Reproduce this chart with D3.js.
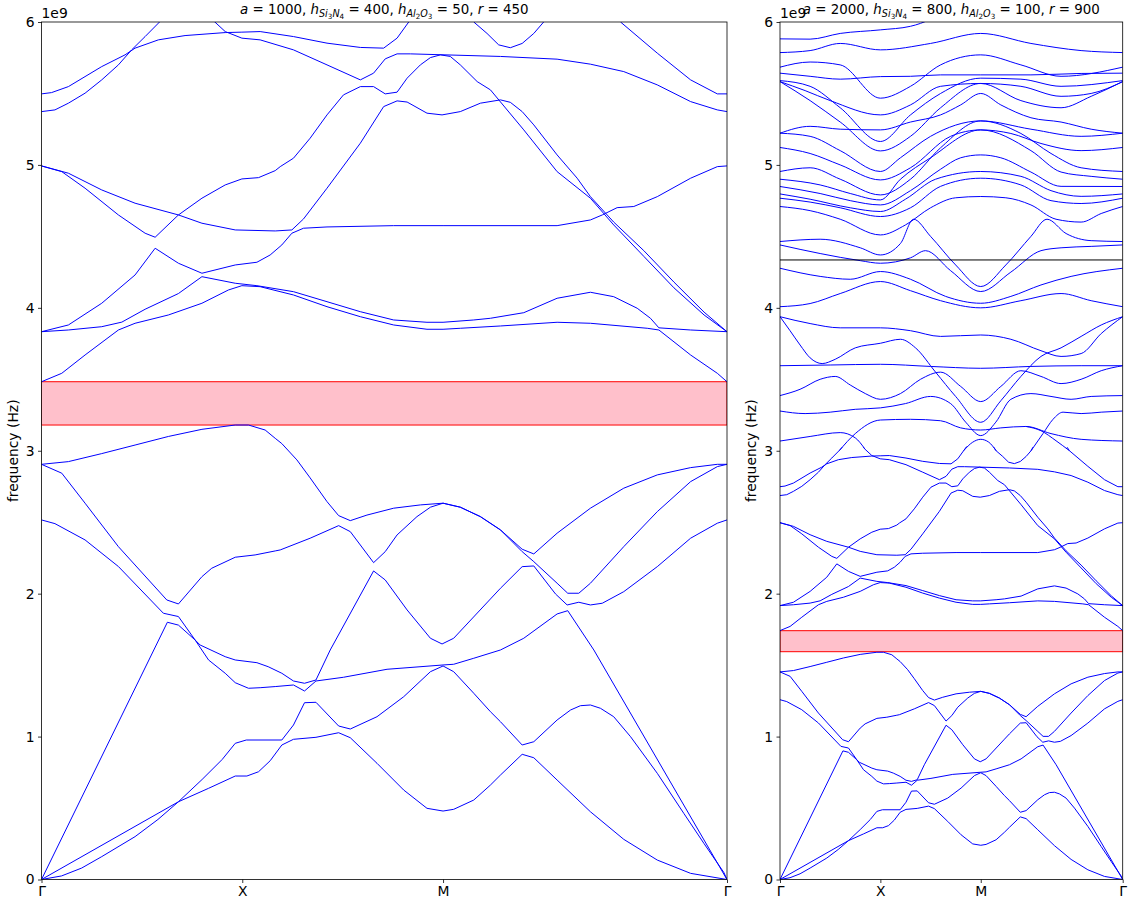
<!DOCTYPE html>
<html>
<head>
<meta charset="utf-8">
<script src="https://cdn.jsdelivr.net/npm/d3@7"></script>
<style>
  body { margin: 0; background: #fff; }
  svg { display: block; }
  text { font-family: "DejaVu Sans", sans-serif; }
</style>
</head>
<body>
<svg id="chart" width="1131" height="904"></svg>
<script>
// k-path: Γ -> X -> M -> Γ, measured as path length in units of |ΓX|
const kLabels = ["Γ", "X", "M", "Γ"];
const kTicks = [0, 1, 2, 2 + Math.SQRT2];
const freqTicks = [0, 1, 2, 3, 4, 5, 6];

// Bands of the a = 1000 lattice, [k, frequency in 1e9 Hz]
const band1 = [[0,0],[0.1,0.025],[0.2,0.08],[0.3,0.16],[0.466,0.30],[0.58,0.42],[0.682,0.544],[0.832,0.638],[0.965,0.724],[1.023,0.724],[1.081,0.754],[1.139,0.831],[1.197,0.941],[1.255,0.981],[1.367,0.995],[1.480,1.027],[1.538,0.992],[1.671,0.813],[1.804,0.626],[1.920,0.498],[2.0,0.479],[2.053,0.491],[2.153,0.556],[2.236,0.661],[2.286,0.731],[2.394,0.876],[2.452,0.852],[2.568,0.696],[2.734,0.474],[2.900,0.281],[3.067,0.136],[3.233,0.043],[3.414,0]];
const band2 = [[0,0],[0.682,0.544],[0.80,0.70],[0.9,0.84],[0.965,0.953],[1.02,0.976],[1.197,0.976],[1.255,1.081],[1.310,1.237],[1.367,1.240],[1.480,1.074],[1.538,1.053],[1.671,1.139],[1.804,1.279],[1.937,1.454],[2.0,1.494],[2.053,1.454],[2.153,1.303],[2.236,1.174],[2.286,1.104],[2.394,0.941],[2.452,0.964],[2.568,1.116],[2.635,1.186],[2.684,1.216],[2.734,1.221],[2.784,1.198],[2.850,1.139],[2.934,0.999],[3.067,0.743],[3.199,0.463],[3.299,0.253],[3.399,0.048],[3.414,0]];
const band3 = [[0,0],[0.627,1.80],[0.682,1.78],[0.765,1.676],[0.832,1.536],[0.915,1.443],[0.965,1.377],[1.031,1.338],[1.089,1.342],[1.164,1.35],[1.255,1.361],[1.310,1.319],[1.367,1.389],[1.504,1.415],[1.721,1.471],[2.0,1.501],[2.053,1.506],[2.153,1.548],[2.286,1.606],[2.402,1.688],[2.568,1.858],[2.621,1.881],[2.751,1.606],[3.414,0]];
const band4 = [[0,2.516],[0.067,2.49],[0.217,2.376],[0.383,2.19],[0.607,1.863],[0.682,1.84],[0.765,1.676],[0.790,1.641],[0.915,1.559],[0.965,1.536],[1.073,1.517],[1.129,1.489],[1.197,1.443],[1.255,1.389],[1.310,1.373],[1.367,1.396],[1.438,1.606],[1.654,2.159],[1.712,2.096],[1.821,1.886],[1.937,1.688],[1.995,1.648],[2.053,1.688],[2.236,1.963],[2.286,2.038],[2.394,2.189],[2.452,2.194],[2.560,1.998],[2.618,1.921],[2.676,1.940],[2.734,1.921],[2.793,1.933],[2.900,2.014],[3.067,2.189],[3.233,2.388],[3.366,2.493],[3.414,2.516]];
const band5 = [[0,2.905],[0.101,2.843],[0.217,2.633],[0.383,2.329],[0.624,1.956],[0.682,1.928],[0.799,2.119],[0.848,2.178],[0.965,2.255],[1.064,2.271],[1.164,2.299],[1.189,2.306],[1.338,2.388],[1.480,2.476],[1.538,2.434],[1.654,2.217],[1.712,2.294],[1.771,2.411],[1.870,2.539],[1.937,2.605],[2.0,2.633],[2.086,2.605],[2.186,2.539],[2.286,2.446],[2.394,2.294],[2.452,2.224],[2.568,2.073],[2.621,2.003],[2.676,2.003],[2.734,2.073],[2.900,2.329],[3.067,2.574],[3.233,2.784],[3.366,2.889],[3.414,2.905]];
const band6 = [[0,2.905],[0.134,2.924],[0.300,2.98],[0.466,3.04],[0.632,3.10],[0.799,3.15],[0.965,3.18],[1.031,3.18],[1.114,3.145],[1.164,3.087],[1.197,3.05],[1.272,2.936],[1.338,2.81],[1.422,2.644],[1.480,2.546],[1.538,2.511],[1.621,2.55],[1.754,2.598],[1.887,2.621],[2.0,2.633],[2.086,2.605],[2.186,2.539],[2.286,2.446],[2.394,2.311],[2.452,2.278],[2.568,2.423],[2.734,2.598],[2.900,2.738],[3.067,2.831],[3.233,2.882],[3.366,2.905],[3.414,2.905]];
const band7 = [[0,3.483],[0.101,3.542],[0.217,3.67],[0.383,3.845],[0.466,3.892],[0.632,3.95],[0.799,4.032],[0.931,4.125],[0.998,4.155],[1.089,4.148],[1.255,4.09],[1.422,4.008],[1.588,3.938],[1.754,3.88],[1.920,3.85],[2.0,3.85],[2.086,3.857],[2.286,3.873],[2.568,3.899],[2.734,3.892],[3.017,3.857],[3.075,3.845],[3.233,3.67],[3.366,3.542],[3.414,3.483]];
const band8 = [[0,3.833],[0.134,3.845],[0.300,3.868],[0.40,3.90],[0.516,3.99],[0.682,4.10],[0.799,4.218],[0.965,4.172],[1.073,4.155],[1.255,4.113],[1.422,4.043],[1.588,3.973],[1.754,3.915],[1.920,3.899],[2.0,3.899],[2.153,3.915],[2.236,3.927],[2.402,3.966],[2.568,4.067],[2.734,4.109],[2.850,4.078],[2.967,3.997],[3.033,3.927],[3.075,3.86],[3.233,3.845],[3.414,3.833]];
const band9 = [[0,3.833],[0.134,3.88],[0.300,4.032],[0.466,4.23],[0.566,4.417],[0.682,4.312],[0.799,4.242],[0.965,4.30],[1.073,4.319],[1.139,4.37],[1.197,4.44],[1.247,4.522],[1.305,4.557],[1.422,4.566],[1.754,4.575],[2.0,4.575],[2.568,4.575],[2.734,4.615],[2.793,4.65],[2.867,4.701],[2.95,4.709],[3.067,4.778],[3.233,4.907],[3.366,4.988],[3.414,4.993]];
const band10 = [[0,4.993],[0.101,4.953],[0.217,4.837],[0.383,4.65],[0.516,4.522],[0.566,4.494],[0.682,4.65],[0.799,4.767],[0.915,4.86],[0.998,4.902],[1.081,4.911],[1.164,4.96],[1.189,4.988],[1.255,5.047],[1.338,5.187],[1.422,5.35],[1.504,5.49],[1.588,5.548],[1.654,5.548],[1.712,5.497],[1.771,5.509],[1.821,5.607],[1.887,5.70],[1.937,5.751],[1.987,5.77],[2.036,5.759],[2.086,5.70],[2.170,5.583],[2.236,5.525],[2.402,5.245],[2.568,4.953],[2.734,4.767],[2.85,4.58],[3.0,4.36],[3.15,4.14],[3.3,3.95],[3.414,3.833]];
const band11 = [[0,4.993],[0.134,4.942],[0.300,4.825],[0.466,4.732],[0.682,4.65],[0.799,4.592],[0.965,4.545],[1.164,4.538],[1.247,4.545],[1.305,4.622],[1.422,4.837],[1.588,5.152],[1.704,5.408],[1.771,5.448],[1.821,5.44],[1.920,5.362],[1.995,5.35],[2.086,5.373],[2.186,5.432],[2.286,5.455],[2.335,5.438],[2.394,5.373],[2.452,5.28],[2.568,5.07],[2.668,4.907],[2.734,4.778],[2.85,4.60],[3.0,4.40],[3.15,4.18],[3.3,3.97],[3.414,3.833]];
const band12 = [[0,5.373],[0.067,5.385],[0.134,5.432],[0.217,5.502],[0.300,5.595],[0.383,5.70],[0.449,5.805],[0.516,5.898],[0.59,6.003],[0.62,6.05]];
const band13 = [[0,5.497],[0.05,5.506],[0.134,5.548],[0.300,5.688],[0.416,5.77],[0.466,5.817],[0.582,5.875],[0.715,5.905],[0.915,5.926],[0.998,5.929],[1.089,5.933],[1.255,5.898],[1.422,5.852],[1.588,5.822],[1.704,5.817],[1.771,5.887],[1.829,6.0],[1.86,6.06]];
const band14 = [[0.83,6.05],[0.848,6.02],[0.915,5.933],[0.998,5.887],[1.089,5.875],[1.255,5.805],[1.422,5.70],[1.588,5.595],[1.654,5.642],[1.712,5.742],[1.771,5.777],[1.837,5.777],[2.286,5.759],[2.568,5.74],[2.734,5.705],[2.900,5.653],[3.067,5.56],[3.233,5.443],[3.366,5.385],[3.414,5.373]];
const band15 = [[2.13,6.05],[2.153,6.0],[2.219,5.92],[2.277,5.84],[2.335,5.82],[2.394,5.85],[2.452,5.92],[2.501,6.0],[2.52,6.05]];
const band16 = [[2.86,6.05],[2.884,6.0],[3.067,5.782],[3.233,5.595],[3.366,5.497],[3.414,5.497]];

const bandsA = [band1, band2, band3, band4, band5, band6, band7, band8, band9,
                band10, band11, band12, band13, band14, band15, band16];

// Higher bands of the a = 2000 lattice (above 3e9 Hz), [k, frequency in 1e9 Hz]
const upper1 = [[0,3.068],[0.3,3.10],[0.6,3.127],[0.75,3.09],[0.848,3.01]];
const upper2 = [[0.59,3.0],[0.75,3.12],[1.0,3.215],[1.3,3.22],[1.6,3.21],[1.8,3.16],[2.0,3.145],[2.2,3.16],[2.45,3.17],[2.7,3.12],[3.0,3.08],[3.414,3.068]];
const upper3 = [[1.829,3.0],[1.92,3.06],[2.0,3.08],[2.08,3.06],[2.153,3.0]];
const upper4 = [[2.501,3.0],[2.62,3.12],[2.72,3.22],[2.82,3.27],[3.0,3.26],[3.2,3.27],[3.414,3.278]];
const upper5 = [[2.45,3.17],[2.6,3.14],[2.75,3.07],[2.884,3.0]];
const upper6 = [[0,3.278],[0.25,3.26],[0.5,3.27],[0.75,3.29],[1.0,3.30],[1.25,3.33],[1.5,3.38],[1.7,3.33],[1.85,3.20],[2.0,3.106],[2.15,3.20],[2.3,3.36],[2.5,3.40],[2.7,3.38],[2.9,3.36],[3.1,3.38],[3.414,3.386]];
const upper7 = [[0,3.386],[0.2,3.43],[0.4,3.50],[0.55,3.52],[0.7,3.46],[0.85,3.40],[1.0,3.36],[1.2,3.40],[1.4,3.50],[1.6,3.55],[1.8,3.45],[2.0,3.344],[2.2,3.45],[2.4,3.56],[2.6,3.52],[2.8,3.47],[3.0,3.50],[3.2,3.56],[3.414,3.595]];
const upper8 = [[0,3.595],[0.5,3.60],[1.0,3.605],[1.5,3.59],[2.0,3.577],[2.5,3.59],[3.0,3.595],[3.414,3.595]];
const upper9 = [[0,3.938],[0.1,3.84],[0.2,3.74],[0.3,3.65],[0.42,3.61],[0.55,3.64],[0.75,3.72],[1.0,3.752],[1.2,3.78],[1.35,3.72],[1.55,3.55],[1.75,3.38],[2.0,3.199],[2.2,3.35],[2.4,3.52],[2.6,3.66],[2.8,3.72],[3.0,3.80],[3.2,3.88],[3.414,3.938]];
const upper10 = [[0,3.938],[0.3,3.89],[0.6,3.86],[1.0,3.86],[1.3,3.84],[1.6,3.80],[2.0,3.81],[2.3,3.78],[2.6,3.70],[2.8,3.66],[3.0,3.68],[3.2,3.82],[3.414,3.938]];
const upper11 = [[0,4.008],[0.3,4.03],[0.6,4.10],[1.0,4.184],[1.3,4.12],[1.6,4.05],[2.0,4.0],[2.4,4.05],[2.8,4.10],[3.1,4.05],[3.414,4.008]];
const upper12 = [[0,4.277],[0.4,4.22],[0.7,4.20],[1.0,4.254],[1.3,4.20],[1.65,4.08],[2.0,4.032],[2.3,4.08],[2.6,4.16],[2.9,4.22],[3.414,4.277]];
const upper13 = [[0,4.44],[0.4,4.38],[0.8,4.33],[1.0,4.312],[1.3,4.35],[1.45,4.40],[1.7,4.26],[2.0,4.114],[2.3,4.25],[2.6,4.40],[2.8,4.42],[3.1,4.43],[3.414,4.44]];
const upper14 = [[0,4.464],[0.4,4.48],[0.8,4.42],[1.0,4.37],[1.2,4.45],[1.33,4.62],[1.5,4.50],[1.75,4.30],[2.0,4.149],[2.25,4.30],[2.5,4.50],[2.66,4.62],[2.85,4.52],[3.1,4.47],[3.414,4.464]];
const upper15 = [[0,4.709],[0.3,4.68],[0.6,4.62],[1.0,4.51],[1.25,4.58],[1.5,4.70],[1.75,4.77],[2.0,4.779],[2.25,4.77],[2.5,4.72],[2.75,4.62],[3.0,4.60],[3.2,4.66],[3.414,4.709]];
const upper16 = [[0,4.767],[0.3,4.74],[0.6,4.70],[1.0,4.639],[1.3,4.70],[1.6,4.85],[2.0,4.907],[2.4,4.86],[2.7,4.75],[3.0,4.73],[3.414,4.767]];
const upper17 = [[0,4.797],[0.3,4.76],[0.7,4.70],[1.0,4.674],[1.25,4.76],[1.55,4.90],[2.0,4.954],[2.4,4.92],[2.7,4.82],[3.0,4.78],[3.414,4.797]];
const upper18 = [[0,4.849],[0.4,4.80],[0.7,4.75],[1.0,4.72],[1.3,4.82],[1.6,4.97],[1.8,5.05],[2.0,5.07],[2.2,5.05],[2.5,4.95],[2.8,4.85],[3.414,4.849]];
const upper19 = [[0,4.90],[0.4,4.86],[0.7,4.80],[1.0,4.755],[1.2,4.90],[1.5,5.05],[2.0,5.245],[2.5,5.10],[2.8,4.95],[3.1,4.92],[3.414,4.90]];
const upper20 = [[0,4.954],[0.3,4.98],[0.6,4.90],[1.0,4.79],[1.3,4.90],[1.6,5.12],[2.0,5.308],[2.4,5.22],[2.7,5.08],[3.0,4.98],[3.414,4.954]];
const upper21 = [[0,5.122],[0.3,5.08],[0.6,5.00],[1.0,4.895],[1.3,4.98],[1.7,5.20],[2.0,5.245],[2.3,5.22],[2.6,5.15],[3.0,5.10],[3.414,5.122]];
const upper22 = [[0,5.222],[0.3,5.20],[0.6,5.10],[1.0,4.954],[1.2,5.05],[1.5,5.20],[2.0,5.308],[2.5,5.25],[3.0,5.20],[3.414,5.222]];
const upper23 = [[0,5.583],[0.3,5.45],[0.6,5.30],[1.0,5.098],[1.3,5.20],[1.6,5.40],[2.0,5.57],[2.4,5.45],[2.8,5.40],[3.1,5.48],[3.414,5.583]];
const upper24 = [[0,5.59],[0.3,5.55],[0.6,5.40],[1.0,5.164],[1.3,5.35],[1.6,5.50],[2.0,5.607],[2.4,5.60],[2.8,5.55],[3.414,5.59]];
const upper25 = [[0,5.642],[0.3,5.62],[0.6,5.60],[1.0,5.618],[1.3,5.62],[1.6,5.63],[2.0,5.63],[2.5,5.63],[3.0,5.64],[3.414,5.642]];
const upper26 = [[0,5.684],[0.3,5.72],[0.6,5.70],[1.0,5.467],[1.3,5.55],[1.6,5.70],[2.0,5.77],[2.4,5.70],[2.8,5.62],[3.414,5.684]];
const upper27 = [[0,5.786],[0.3,5.80],[0.6,5.85],[1.0,5.805],[1.5,5.85],[2.0,5.92],[2.5,5.85],[3.0,5.80],[3.414,5.786]];
const upper28 = [[0,5.882],[0.3,5.88],[0.6,5.92],[1.0,5.945],[1.3,5.97],[1.5,6.02],[1.6,6.06]];
const upper29 = [[0,5.222],[0.3,5.27],[0.6,5.25],[1.0,5.245],[1.3,5.30],[1.6,5.35],[1.8,5.42],[2.0,5.50],[2.2,5.42],[2.5,5.33],[2.8,5.30],[3.1,5.25],[3.414,5.222]];
const upper30 = [[0,5.583],[0.25,5.52],[0.5,5.45],[1.0,5.35],[1.3,5.42],[1.6,5.55],[2.0,5.57],[2.4,5.55],[2.8,5.48],[3.1,5.50],[3.414,5.583]];

const bandsUpperB = [upper1, upper2, upper3, upper4, upper5, upper6, upper7, upper8, upper9, upper10,
                     upper11, upper12, upper13, upper14, upper15, upper16, upper17, upper18, upper19, upper20,
                     upper21, upper22, upper23, upper24, upper25, upper26, upper27, upper28, upper29, upper30];

// Flat band of the a = 2000 lattice
const flatB = [[0, 4.335], [2 + Math.SQRT2, 4.335]];

// Complete band gaps [bottom, top], 1e9 Hz
const gapA = [3.18, 3.483];
const gapB = [1.594, 1.741];

// Dimensions double from the first lattice to the second, so its lower
// eigenfrequencies are those of the first one divided by two.
const freqRatioB = 1000 / 2000;

// Titles: [text, script level, italic]
const titleA = [["a",0,1],[" = 1000, ",0,0],["h",0,1],["Si",1,1],["3",2,0],["N",1,1],["4",2,0],[" = 400, ",0,0],["h",0,1],["Al",1,1],["2",2,0],["O",1,1],["3",2,0],[" = 50, ",0,0],["r",0,1],[" = 450",0,0]];
const titleB = [["a",0,1],[" = 2000, ",0,0],["h",0,1],["Si",1,1],["3",2,0],["N",1,1],["4",2,0],[" = 800, ",0,0],["h",0,1],["Al",1,1],["2",2,0],["O",1,1],["3",2,0],[" = 100, ",0,0],["r",0,1],[" = 900",0,0]];

const svg = d3.select("#chart");
const plotTop = 22, plotBottom = 879.5;
const y = d3.scaleLinear().domain([0, 6]).range([plotBottom, plotTop]);

function drawTitle(g, cx, parts) {
  const sizes = [13.4, 9.6, 7.2];
  const shifts = [0, 3, 5];
  const t = g.append("text").attr("x", cx).attr("y", 14)
    .attr("text-anchor", "middle").attr("fill", "#000");
  let level = 0;
  parts.forEach(([s, lv, it]) => {
    t.append("tspan")
      .attr("font-size", sizes[lv])
      .attr("font-style", it ? "italic" : "normal")
      .attr("dy", shifts[lv] - shifts[level])
      .text(s);
    level = lv;
  });
}

function panel(id, x0, x1, title, draw) {
  const x = d3.scaleLinear().domain([0, 2 + Math.SQRT2]).range([x0, x1]);
  const g = svg.append("g");

  svg.append("clipPath").attr("id", id)
    .append("rect").attr("x", x0).attr("y", plotTop)
    .attr("width", x1 - x0).attr("height", plotBottom - plotTop);

  const plot = g.append("g").attr("clip-path", `url(#${id})`);
  draw(plot, x);

  g.append("rect").attr("x", x0).attr("y", plotTop)
    .attr("width", x1 - x0).attr("height", plotBottom - plotTop)
    .attr("fill", "none").attr("stroke", "#000").attr("stroke-width", 0.8);

  const ya = g.append("g").attr("transform", `translate(${x0},0)`)
    .call(d3.axisLeft(y).tickValues(freqTicks).tickFormat(d3.format("d")).tickSize(3.5).tickPadding(3.5));
  const xa = g.append("g").attr("transform", `translate(0,${plotBottom})`)
    .call(d3.axisBottom(x).tickValues(kTicks).tickFormat((d, i) => kLabels[i]).tickSize(3.5).tickPadding(3.5));
  [ya, xa].forEach(a => {
    a.select(".domain").remove();
    a.selectAll("line").attr("stroke", "#000").attr("stroke-width", 0.8);
    a.selectAll("text").attr("font-family", "DejaVu Sans").attr("font-size", 13.9).attr("fill", "#000");
  });

  g.append("text").attr("x", x0).attr("y", 18)
    .attr("font-size", 13.9).attr("fill", "#000").text("1e9");

  g.append("text")
    .attr("transform", `translate(${x0 - 24},${(plotTop + plotBottom) / 2}) rotate(-90)`)
    .attr("text-anchor", "middle").attr("font-size", 13.9).attr("fill", "#000")
    .text("frequency (Hz)");

  drawTitle(g, (x0 + x1) / 2, title);
}

function drawGap(plot, x, gap) {
  plot.append("rect")
    .attr("x", x.range()[0]).attr("width", x.range()[1] - x.range()[0])
    .attr("y", y(gap[1])).attr("height", y(gap[0]) - y(gap[1]))
    .attr("fill", "#ffc0cb").attr("stroke", "#ff0000").attr("stroke-width", 1);
}

function drawBands(plot, x, traces, ratio, curve) {
  const line = d3.line().x(d => x(d[0])).y(d => y(d[1] * ratio)).curve(curve);
  plot.append("g").selectAll("path").data(traces).join("path")
    .attr("d", line)
    .attr("fill", "none").attr("stroke", "#0000ff").attr("stroke-width", 1);
}

panel("clipA", 41.5, 727, titleA, (plot, x) => {
  drawGap(plot, x, gapA);
  drawBands(plot, x, bandsA, 1, d3.curveLinear);
});

panel("clipB", 780, 1122.7, titleB, (plot, x) => {
  drawGap(plot, x, gapB);
  drawBands(plot, x, bandsA, freqRatioB, d3.curveLinear);
  drawBands(plot, x, bandsUpperB, 1, d3.curveMonotoneX);
  plot.append("path").datum(flatB)
    .attr("d", d3.line().x(d => x(d[0])).y(d => y(d[1])))
    .attr("fill", "none").attr("stroke", "#000").attr("stroke-width", 1);
});
</script>
</body>
</html>
